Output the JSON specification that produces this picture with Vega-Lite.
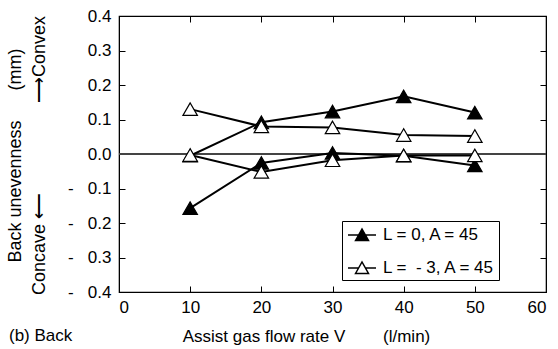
{
  "$schema": "https://vega.github.io/schema/vega-lite/v6.json",
  "width": 427,
  "height": 276,
  "autosize": {"type": "none"},
  "padding": {"left": 119, "top": 16, "right": 12, "bottom": 57},
  "background": "white",
  "config": {
    "font": "Liberation Sans",
    "view": {"stroke": "black", "strokeWidth": 1.2},
    "axis": {"labelFont": "Liberation Sans", "titleFont": "Liberation Sans", "labelColor": "black", "titleColor": "black", "domainColor": "black", "tickColor": "black", "titleFontWeight": "normal"}
  },
  "title": {"text": "(b) Back", "orient": "bottom", "anchor": "start", "frame": "bounds", "fontSize": 17, "fontWeight": "normal", "font": "Liberation Sans", "color": "black", "offset": -3, "dx": 3, "baseline": "alphabetic"},
  "data": {"values": [
    {"x": 10, "y": -0.157, "series": "L = 0, A = 45", "branch": "a"},
    {"x": 20, "y": -0.026, "series": "L = 0, A = 45", "branch": "a"},
    {"x": 30, "y": 0.003, "series": "L = 0, A = 45", "branch": "a"},
    {"x": 40, "y": -0.005, "series": "L = 0, A = 45", "branch": "a"},
    {"x": 50, "y": -0.033, "series": "L = 0, A = 45", "branch": "a"},
    {"x": 10, "y": -0.005, "series": "L = 0, A = 45", "branch": "b"},
    {"x": 20, "y": 0.092, "series": "L = 0, A = 45", "branch": "b"},
    {"x": 30, "y": 0.123, "series": "L = 0, A = 45", "branch": "b"},
    {"x": 40, "y": 0.167, "series": "L = 0, A = 45", "branch": "b"},
    {"x": 50, "y": 0.12, "series": "L = 0, A = 45", "branch": "b"},
    {"x": 10, "y": 0.13, "series": "L = \u00a0- 3, A = 45", "branch": "a"},
    {"x": 20, "y": 0.08, "series": "L = \u00a0- 3, A = 45", "branch": "a"},
    {"x": 30, "y": 0.077, "series": "L = \u00a0- 3, A = 45", "branch": "a"},
    {"x": 40, "y": 0.055, "series": "L = \u00a0- 3, A = 45", "branch": "a"},
    {"x": 50, "y": 0.052, "series": "L = \u00a0- 3, A = 45", "branch": "a"},
    {"x": 10, "y": -0.003, "series": "L = \u00a0- 3, A = 45", "branch": "b"},
    {"x": 20, "y": -0.052, "series": "L = \u00a0- 3, A = 45", "branch": "b"},
    {"x": 30, "y": -0.018, "series": "L = \u00a0- 3, A = 45", "branch": "b"},
    {"x": 40, "y": -0.004, "series": "L = \u00a0- 3, A = 45", "branch": "b"},
    {"x": 50, "y": -0.004, "series": "L = \u00a0- 3, A = 45", "branch": "b"}
  ]},
  "layer": [
    {
      "mark": {"type": "rule", "color": "#444", "strokeWidth": 1.2},
      "encoding": {
        "y": {"datum": 0, "type": "quantitative", "scale": {"domain": [-0.4, 0.4], "nice": false, "zero": false},
          "axis": {"orient": "left", "values": [-0.4, -0.3, -0.2, -0.1, 0, 0.1, 0.2, 0.3, 0.4], "labelExpr": "datum.value < 0 ? '-\u00a0\u00a0\u00a0' + format(-datum.value, '.1f') : format(datum.value, '.1f')", "labelFontSize": 17, "tickSize": -6, "labelPadding": 14, "grid": false, "domain": true,
            "title": ["Back unevenness\u00a0\u00a0\u00a0\u00a0\u00a0\u00a0(mm)\u00a0\u00a0\u00a0\u00a0\u00a0\u00a0", "Concave \u27f5\u00a0\u00a0\u00a0\u00a0\u00a0\u00a0\u00a0\u00a0\u00a0\u00a0\u00a0\u00a0\u00a0\u00a0\u00a0\u00a0\u00a0\u00a0\u27f6Convex"], "titleFontSize": 18, "titleLineHeight": 24, "titleX": -95, "titleY": 139, "titleAngle": 270, "titleBaseline": "bottom", "titleAlign": "center"}},
        "x": {"datum": 0, "type": "quantitative", "scale": {"domain": [0, 60], "nice": false, "zero": false},
          "axis": {"orient": "bottom", "values": [0, 10, 20, 30, 40, 50, 60], "labelFontSize": 17, "tickSize": -6, "labelPadding": 13, "grid": false,
            "title": "Assist gas flow rate V\u00a0\u00a0\u00a0\u00a0\u00a0\u00a0\u00a0\u00a0(l/min)", "titleFontSize": 17, "titlePadding": 13, "titleX": 187}},
        "x2": {"datum": 60}
      }
    },
    {
      "mark": {"type": "line", "color": "black", "strokeWidth": 2},
      "encoding": {
        "x": {"field": "x", "type": "quantitative", "axis": {"orient": "top", "values": [0, 10, 20, 30, 40, 50, 60], "labels": false, "tickSize": -6, "title": null, "grid": false}},
        "y": {"field": "y", "type": "quantitative", "axis": {"orient": "right", "values": [-0.4, -0.3, -0.2, -0.1, 0, 0.1, 0.2, 0.3, 0.4], "labels": false, "tickSize": -6, "title": null, "grid": false}},
        "detail": [{"field": "series"}, {"field": "branch"}],
        "order": {"field": "x"}
      }
    },
    {
      "mark": {"type": "point", "shape": "triangle-up", "stroke": "black", "strokeWidth": 1.2, "size": 210, "opacity": 1, "filled": true},
      "encoding": {
        "x": {"field": "x", "type": "quantitative", "axis": null},
        "y": {"field": "y", "type": "quantitative", "axis": null},
        "fill": {"field": "series", "type": "nominal", "sort": ["L = 0, A = 45", "L = \u00a0- 3, A = 45"],
          "scale": {"domain": ["L = 0, A = 45", "L = \u00a0- 3, A = 45"], "range": ["black", "white"]},
          "legend": {"title": null, "orient": "none", "legendX": 223, "legendY": 205, "strokeColor": "black", "fillColor": "white", "padding": 3, "labelFontSize": 17, "labelFont": "Liberation Sans", "labelColor": "black", "symbolType": "M-1.4,0H-0.3M0.3,0H1.4M-0.65,0.55L0,-0.6L0.65,0.55Z", "symbolSize": 400, "symbolStrokeColor": "black", "symbolStrokeWidth": 1.5, "symbolOffset": 6, "labelOffset": 10, "rowPadding": 13, "symbolOpacity": 1}}
      }
    }
  ],
  "resolve": {"axis": {"x": "independent", "y": "independent"}}
}
